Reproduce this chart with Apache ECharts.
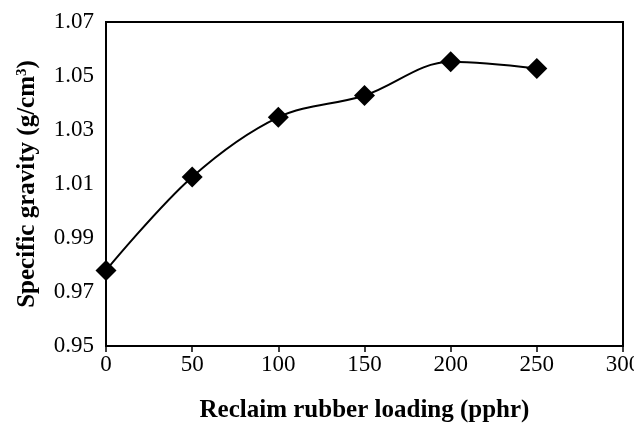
<!DOCTYPE html>
<html><head><meta charset="utf-8">
<script src="https://cdn.jsdelivr.net/npm/echarts@6/dist/echarts.min.js"></script>
<style>html,body{margin:0;padding:0;background:#fff}#c{width:634px;height:424px}</style>
</head><body><div id="c"></div>
<script>
const loading = [0, 50, 100, 150, 200, 250];
const gravity = [0.978, 1.0126, 1.0347, 1.0428, 1.0553, 1.0528];
const xTicks = {min: 0, max: 300, interval: 50};
const yTicks = {min: 0.95, max: 1.07, interval: 0.02};

const font = "'Liberation Serif', 'Times New Roman', serif";
const chart = echarts.init(document.getElementById('c'));
chart.setOption({
  animation: false,
  backgroundColor: '#fff',
  grid: {left: 106, top: 22, right: 11, bottom: 78, show: true, borderColor: '#000', borderWidth: 2,
         containLabel: false, outerBoundsMode: 'none'},
  xAxis: {
    type: 'value', min: xTicks.min, max: xTicks.max, interval: xTicks.interval,
    name: 'Reclaim rubber loading (pphr)', nameLocation: 'middle', nameGap: 52,
    nameTextStyle: {fontFamily: font, fontWeight: 'bold', fontSize: 25, color: '#000'},
    axisLine: {lineStyle: {color: '#000', width: 2}},
    axisTick: {show: true, length: 6, lineStyle: {color: '#000', width: 1.5}},
    axisLabel: {fontFamily: font, fontSize: 23, color: '#000', margin: 7},
    splitLine: {show: false}
  },
  yAxis: {
    type: 'value', min: yTicks.min, max: yTicks.max, interval: yTicks.interval,
    name: '{t|Specific gravity (g/cm}{s|3}{t|)}', nameLocation: 'middle', nameGap: 66,
    nameTextStyle: {fontFamily: font, fontWeight: 'bold', fontSize: 25, color: '#000',
      rich: {
        t: {fontFamily: font, fontWeight: 'bold', fontSize: 25, color: '#000'},
        s: {fontFamily: font, fontWeight: 'bold', fontSize: 15, color: '#000', verticalAlign: 'top', padding: [0, 0, 10, 0]}
      }},
    axisLine: {lineStyle: {color: '#000', width: 2}},
    axisTick: {show: false},
    axisLabel: {fontFamily: font, fontSize: 23, color: '#000', margin: 12,
      formatter: v => v.toFixed(2)},
    splitLine: {show: false}
  },
  series: [{
    type: 'line',
    data: loading.map((x, i) => [x, gravity[i]]),
    smooth: 0.35,
    symbol: 'diamond', symbolSize: 21,
    itemStyle: {color: '#000'},
    lineStyle: {color: '#000', width: 2}
  }]
});
</script></body></html>
